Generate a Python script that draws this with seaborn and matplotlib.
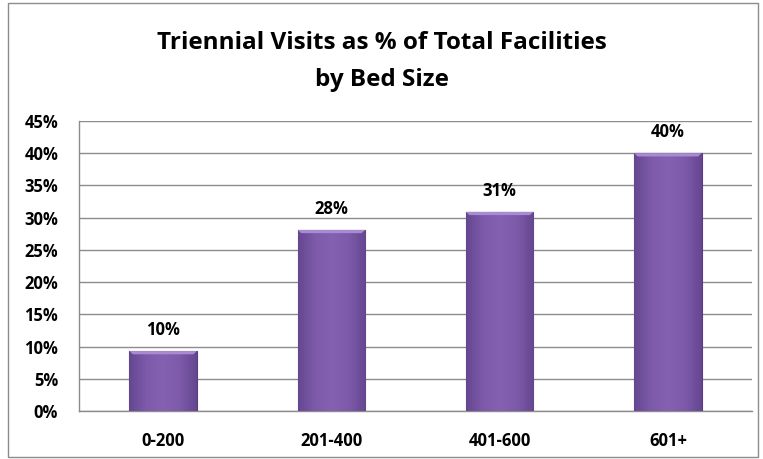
import numpy as np
import pandas as pd
import matplotlib
matplotlib.use("Agg")
import matplotlib.pyplot as plt
from matplotlib.patches import Rectangle, Polygon
from matplotlib.colors import LinearSegmentedColormap
import seaborn as sns

categories = ["0-200", "201-400", "401-600", "601+"]
values = [9.3, 28.1, 30.9, 40.0]
labels = ["10%", "28%", "31%", "40%"]
yticks = [0, 5, 10, 15, 20, 25, 30, 35, 40, 45]

sns.set_style("white")
plt.rcParams["font.family"] = ["Open Sans", "DejaVu Sans"]
plt.rcParams["font.weight"] = "bold"
plt.rcParams["text.color"] = "black"
plt.rcParams["xtick.labelcolor"] = "black"
plt.rcParams["ytick.labelcolor"] = "black"

fig = plt.figure(figsize=(7.63, 4.59), dpi=100)
ax = fig.add_axes([79/763, 48/459, (752-79)/763, (411-121)/459])

df = pd.DataFrame({"cat": categories, "val": values})
sns.barplot(data=df, x="cat", y="val", ax=ax, color="#7b58a6", width=0.4,
            edgecolor="#5a3d80", linewidth=0.8, zorder=3)

cmap = LinearSegmentedColormap.from_list("g", ["#654790", "#7d5aaa", "#8462b1", "#7d5aaa", "#654790"])
grad = np.linspace(0, 1, 200).reshape(1, -1)
for p in list(ax.patches):
    x0, y0 = p.get_x(), p.get_y()
    w, h = p.get_width(), p.get_height()
    im = ax.imshow(grad, extent=[x0, x0 + w, y0, y0 + h], aspect="auto",
                   cmap=cmap, zorder=3.5, interpolation="bicubic")
    im.set_clip_path(p)
    bh = 0.5
    bw = 0.02
    ax.add_patch(Polygon([(x0, y0 + h), (x0 + w, y0 + h), (x0 + w - bw, y0 + h - bh),
                          (x0 + bw, y0 + h - bh)], closed=True, facecolor="#a88bd0",
                         edgecolor="none", zorder=3.6))

ax.set_xlim(-0.5, 3.5)
ax.set_ylim(0, 45)
ax.set_yticks(yticks)
ax.set_yticklabels([f"{t}%" for t in yticks])
ax.yaxis.grid(True, color="#8c8c8c", linewidth=1, zorder=0)
ax.set_xlabel("")
ax.set_ylabel("")
for s in ["top", "right"]:
    ax.spines[s].set_visible(False)
for s in ["left", "bottom"]:
    ax.spines[s].set_color("#8c8c8c")
    ax.spines[s].set_linewidth(1)
ax.tick_params(axis="y", which="major", length=5, color="#8c8c8c", direction="out",
               labelsize=12, pad=10, labelcolor="black")
ax.tick_params(axis="x", which="major", length=0, labelsize=12, pad=15, labelcolor="black")
ax.set_xticks([-0.5, 0.5, 1.5, 2.5, 3.5], minor=True)
ax.tick_params(axis="x", which="minor", length=5, color="#8c8c8c", direction="out")
for t in ax.get_xticklabels() + ax.get_yticklabels():
    t.set_fontweight("bold")

for i, (v, lab) in enumerate(zip(values, labels)):
    ax.text(i, v + 2.5, lab, ha="center", va="baseline", fontsize=12,
            fontweight="bold", color="black")

fig.text(0.5, 1 - 49/459, "Triennial Visits as % of Total Facilities", ha="center",
         va="baseline", fontsize=17.5, fontweight="bold", color="black")
fig.text(0.5, 1 - 86/459, "by Bed Size", ha="center", va="baseline",
         fontsize=17.5, fontweight="bold", color="black")

fig.add_artist(Rectangle((8/763, 2/459), 750/763, 454/459, transform=fig.transFigure,
                         fill=False, edgecolor="#8c8c8c", linewidth=1))

fig.savefig("out.png", dpi=100)
